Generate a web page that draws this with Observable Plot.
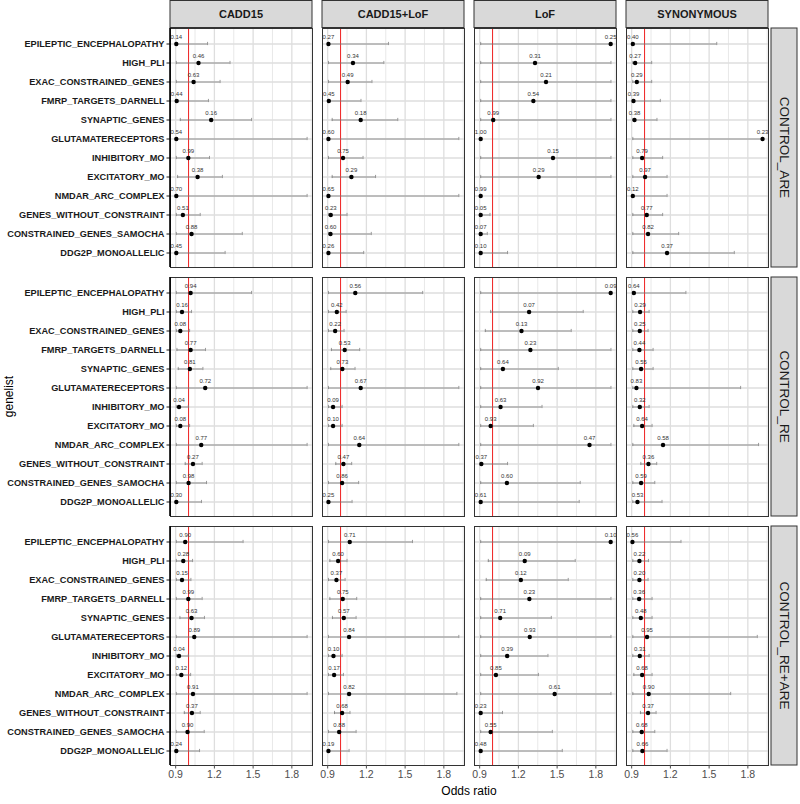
<!DOCTYPE html>
<html><head><meta charset="utf-8">
<script src="https://cdn.jsdelivr.net/npm/d3@7"></script>
<script src="https://cdn.jsdelivr.net/npm/@observablehq/plot@0.6"></script>
<style>
html,body{margin:0;padding:0;background:#fff;overflow:hidden}
#chart{position:relative;width:800px;height:804px}
</style></head><body><div id="chart"></div>
<script>
const genelists = ["EPILEPTIC_ENCEPHALOPATHY","HIGH_PLI","EXAC_CONSTRAINED_GENES","FMRP_TARGETS_DARNELL","SYNAPTIC_GENES","GLUTAMATERECEPTORS","INHIBITORY_MO","EXCITATORY_MO","NMDAR_ARC_COMPLEX","GENES_WITHOUT_CONSTRAINT","CONSTRAINED_GENES_SAMOCHA","DDG2P_MONOALLELIC"];
const tests = ["CADD15","CADD15+LoF","LoF","SYNONYMOUS"];
const controls = ["CONTROL_ARE","CONTROL_RE","CONTROL_RE+ARE"];
const xTicks = [0.9,1.2,1.5,1.8];
const xMinorTicks = [1.05,1.35,1.65,1.95];
const refLine = [1];
const xLabel = "Odds ratio";
const yLabel = "genelist";

// panels in order: control (row) x test (column)
const oddsRatio = [
 [0.905,1.077,1.039,0.908,1.175,0.905,0.998,1.070,0.905,0.956,1.023,0.905],
 [0.906,1.096,1.055,0.909,1.156,0.906,1.019,1.084,0.906,0.924,0.922,0.906],
 [1.915,1.329,1.414,1.316,1.005,0.908,1.468,1.357,0.908,0.908,0.908,0.908],
 [0.909,0.927,0.940,0.914,0.922,1.914,0.981,1.004,0.909,1.017,1.027,1.174],
 [1.016,0.949,0.936,1.016,1.010,1.129,0.926,0.936,1.098,1.034,1.000,0.905],
 [1.114,0.971,0.958,1.032,1.014,1.156,0.942,0.942,1.145,1.022,1.012,0.906],
 [1.915,1.283,1.224,1.293,1.080,1.352,1.062,0.985,1.751,0.913,1.111,0.908],
 [0.917,0.965,0.963,0.960,0.973,0.937,0.963,0.981,1.143,1.030,0.973,0.945],
 [0.974,0.959,0.949,0.998,1.023,1.044,0.926,0.944,1.034,1.026,0.992,0.905],
 [1.071,0.981,0.968,1.017,1.025,1.066,0.945,0.950,1.066,1.012,0.989,0.906],
 [1.915,1.249,1.219,1.285,1.059,1.288,1.113,1.026,1.481,0.908,0.985,0.908],
 [0.906,0.960,0.960,0.958,0.971,1.019,0.963,0.981,1.032,1.027,0.978,0.983]
];
const ciLow = [
 [0.905,0.905,0.905,0.905,0.936,0.905,0.905,0.915,0.905,0.905,0.905,0.905],
 [0.906,0.906,0.906,0.906,0.935,0.906,0.906,0.935,0.906,0.906,0.906,0.906],
 [0.908,0.908,0.908,0.908,0.908,0.908,0.908,0.908,0.908,0.908,0.908,0.908],
 [0.909,0.909,0.909,0.909,0.909,0.909,0.909,0.909,0.909,0.909,0.909,0.909],
 [0.905,0.905,0.905,0.910,0.920,0.905,0.905,0.905,0.905,0.974,0.905,0.905],
 [0.906,0.906,0.906,0.929,0.924,0.906,0.906,0.906,0.906,0.963,0.906,0.906],
 [0.908,0.985,0.944,0.908,0.908,0.908,0.908,0.908,0.908,0.908,0.908,0.908],
 [0.909,0.909,0.909,0.909,0.909,0.909,0.909,0.917,0.909,0.971,0.909,0.909],
 [0.905,0.905,0.905,0.905,0.933,0.905,0.905,0.905,0.905,0.967,0.905,0.905],
 [0.906,0.917,0.906,0.917,0.937,0.906,0.906,0.906,0.906,0.953,0.906,0.906],
 [0.908,0.967,0.951,0.908,0.908,0.908,0.908,0.908,0.908,0.908,0.908,0.908],
 [0.906,0.909,0.909,0.909,0.909,0.909,0.909,0.917,0.909,0.968,0.909,0.909]
];
const ciHigh = [
 [1.147,1.321,1.244,1.154,1.488,1.918,1.162,1.262,1.918,1.090,1.416,1.283],
 [1.371,1.335,1.243,1.158,1.443,1.916,1.174,1.271,1.916,1.050,1.238,1.179],
 [1.917,1.917,1.917,1.917,1.917,0.908,1.917,1.917,0.908,0.980,0.959,1.116],
 [1.559,1.055,1.055,1.122,1.096,1.914,1.140,1.174,1.174,1.140,1.264,1.695],
 [1.488,1.023,1.008,1.131,1.111,1.918,0.998,1.008,1.918,1.105,1.139,1.100],
 [1.636,1.043,1.027,1.148,1.112,1.916,1.012,1.012,1.916,1.086,1.140,1.089],
 [1.917,1.702,1.609,1.917,1.509,1.917,1.383,1.316,1.917,1.116,1.679,1.671],
 [1.320,1.035,1.027,1.066,1.066,1.744,1.035,1.058,1.883,1.094,1.079,1.135],
 [1.422,1.031,1.018,1.105,1.123,1.918,0.998,1.016,1.918,1.090,1.121,1.085],
 [1.557,1.050,1.035,1.125,1.120,1.916,1.012,1.022,1.901,1.073,1.120,1.066],
 [1.917,1.640,1.586,1.917,1.455,1.917,1.429,1.355,1.917,1.077,1.463,1.540],
 [1.282,1.030,1.027,1.058,1.058,1.873,1.035,1.058,1.667,1.089,1.079,1.174]
];
const pValue = [
 [0.14,0.46,0.63,0.44,0.16,0.54,0.99,0.38,0.70,0.51,0.88,0.45],
 [0.27,0.34,0.49,0.45,0.18,0.60,0.75,0.29,0.65,0.23,0.60,0.26],
 [0.25,0.31,0.21,0.54,0.99,1.00,0.15,0.29,0.99,0.05,0.07,0.10],
 [0.40,0.27,0.29,0.39,0.38,0.23,0.79,0.97,0.12,0.77,0.82,0.37],
 [0.94,0.16,0.08,0.77,0.81,0.72,0.04,0.08,0.77,0.27,0.98,0.30],
 [0.56,0.42,0.22,0.53,0.73,0.67,0.09,0.10,0.64,0.47,0.86,0.25],
 [0.09,0.07,0.13,0.23,0.64,0.92,0.63,0.93,0.47,0.37,0.60,0.61],
 [0.64,0.29,0.25,0.44,0.55,0.83,0.32,0.64,0.58,0.36,0.59,0.53],
 [0.90,0.28,0.15,0.99,0.63,0.89,0.04,0.12,0.91,0.37,0.90,0.24],
 [0.71,0.60,0.37,0.75,0.57,0.84,0.10,0.17,0.82,0.68,0.88,0.19],
 [0.10,0.09,0.12,0.23,0.71,0.93,0.39,0.85,0.61,0.23,0.55,0.48],
 [0.56,0.22,0.20,0.36,0.48,0.95,0.31,0.68,0.90,0.37,0.68,0.66]
];

const rows = [];
controls.forEach((ctrl, r) => tests.forEach((test, c) => {
  const k = r * tests.length + c;
  genelists.forEach((gene, g) => rows.push({
    control: ctrl, test, gene,
    or: oddsRatio[k][g], lo: ciLow[k][g], hi: ciHigh[k][g], p: pValue[k][g]
  }));
}));

const W = 800, H = 804, mL = 169.5, mR = 30.5, mT = 27.5, mB = 38.6;
const FONT = "'Liberation Sans', Arial, Helvetica, sans-serif";
const fmtP = d3.format(".2f");
const face = {fx: "test", fy: "control"};

const chart = Plot.plot({
  width: W, height: H,
  marginLeft: mL, marginRight: mR, marginTop: mT, marginBottom: mB,
  style: {fontFamily: FONT, background: "white", overflow: "visible"},
  fx: {domain: tests, paddingInner: 10 / 152.5, paddingOuter: 0, axis: null, label: null},
  fy: {domain: controls, paddingInner: 9.7 / 249.2, paddingOuter: 0, axis: null, label: null},
  x: {domain: [0.86, 1.96], label: null},
  y: {type: "point", domain: genelists, padding: 0.6, label: null},
  marks: [
    Plot.ruleX(xMinorTicks, {stroke: "#e2e2e2", strokeWidth: 0.8, strokeOpacity: 1}),
    Plot.ruleX(xTicks, {stroke: "#dedede", strokeWidth: 1.3, strokeOpacity: 1}),
    Plot.ruleY(genelists, {stroke: "#dedede", strokeWidth: 1.3, strokeOpacity: 1}),
    Plot.ruleX(refLine, {stroke: "#ee2020", strokeWidth: 1}),
    Plot.ruleY(rows, {...face, y: "gene", x1: "lo", x2: "hi", stroke: "#7a7a7a", strokeWidth: 0.75}),
    Plot.ruleX(rows, {...face, x: "lo", y1: "gene", y2: "gene", insetTop: -1.6, insetBottom: -1.6, stroke: "#7a7a7a", strokeWidth: 0.75}),
    Plot.ruleX(rows, {...face, x: "hi", y1: "gene", y2: "gene", insetTop: -1.6, insetBottom: -1.6, stroke: "#7a7a7a", strokeWidth: 0.75}),
    Plot.dot(rows, {...face, x: "or", y: "gene", r: 2.2, fill: "black", stroke: "none"}),
    Plot.text(rows, {...face, x: "or", y: "gene", text: d => fmtP(d.p), dy: -6.7, fontSize: 6, fill: "#333", clip: true}),
    Plot.frame({stroke: "#333", strokeWidth: 1}),
    Plot.axisY({tickSize: 3.5, tickPadding: 2.5, fontSize: 9.2, fontWeight: "bold", label: null, color: "#1a1a1a"}),
    Plot.axisX({ticks: xTicks, tickSize: 3.5, tickPadding: 2, fontSize: 10.5, label: null, tickFormat: d3.format(".1f"), color: "#4d4d4d"})
  ]
});

document.getElementById("chart").appendChild(chart);

// decorations placed with the Plot facet scales
const svg = d3.select(chart);
const fxS = chart.scale("fx"), fyS = chart.scale("fy");
const bwX = fxS.bandwidth, bwY = fyS.bandwidth;

svg.selectAll('[aria-label="y-axis tick label"] text').attr("font-weight", "bold");

const deco = svg.append("g");
// thick left axis line on first column
controls.forEach(c => {
  const y0 = fyS.apply(c);
  deco.append("line").attr("x1", fxS.apply(tests[0])).attr("x2", fxS.apply(tests[0]))
    .attr("y1", y0).attr("y2", y0 + bwY).attr("stroke", "black").attr("stroke-width", 1.6);
});
// top strips
tests.forEach(t => {
  const x0 = fxS.apply(t);
  deco.append("rect").attr("x", x0).attr("y", 0.5).attr("width", bwX).attr("height", mT - 0.5)
    .attr("fill", "#d9d9d9").attr("stroke", "#333").attr("stroke-width", 1);
  deco.append("text").attr("x", x0 + bwX / 2).attr("y", mT / 2 + 0.5)
    .attr("text-anchor", "middle").attr("dominant-baseline", "central")
    .attr("font-family", FONT).attr("font-size", 11).attr("font-weight", "bold")
    .attr("fill", "#1a1a1a").text(t);
});
// right strips
const sx = W - mR + 1.5, sw = 26;
controls.forEach(c => {
  const y0 = fyS.apply(c);
  deco.append("rect").attr("x", sx).attr("y", y0).attr("width", sw).attr("height", bwY)
    .attr("fill", "#d9d9d9").attr("stroke", "#333").attr("stroke-width", 1);
  deco.append("text").attr("transform", `translate(${sx + sw / 2},${y0 + bwY / 2}) rotate(90)`)
    .attr("text-anchor", "middle").attr("dominant-baseline", "central")
    .attr("font-family", FONT).attr("font-size", 13.5).attr("fill", "#1a1a1a").text(c);
});
// axis titles
const x0 = fxS.apply(tests[0]), x1 = fxS.apply(tests[tests.length - 1]) + bwX;
deco.append("text").attr("x", (x0 + x1) / 2).attr("y", 791)
  .attr("text-anchor", "middle").attr("dominant-baseline", "central")
  .attr("font-family", FONT).attr("font-size", 12).attr("fill", "#000").text(xLabel);
const ya = fyS.apply(controls[0]), yb = fyS.apply(controls[controls.length - 1]) + bwY;
deco.append("text").attr("transform", `translate(9,${(ya + yb) / 2}) rotate(-90)`)
  .attr("text-anchor", "middle").attr("dominant-baseline", "central")
  .attr("font-family", FONT).attr("font-size", 12).attr("fill", "#000").text(yLabel);
</script></body></html>
